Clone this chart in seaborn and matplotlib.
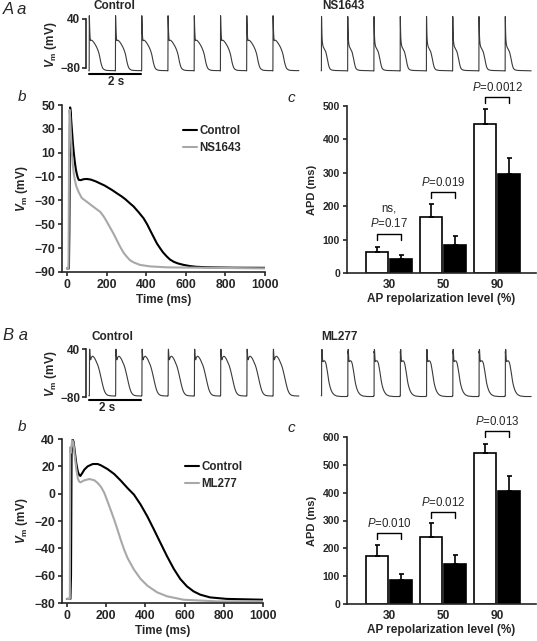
import numpy as np
import pandas as pd
import seaborn as sns
import matplotlib.pyplot as plt
from matplotlib.lines import Line2D

sns.set_style('ticks')
plt.rcParams['font.family'] = ['Liberation Sans', 'DejaVu Sans']
plt.rcParams['font.weight'] = 'bold'
plt.rcParams['axes.labelweight'] = 'bold'
plt.rcParams['mathtext.fontset'] = 'custom'
plt.rcParams['mathtext.rm'] = 'Liberation Sans:normal'
plt.rcParams['mathtext.it'] = 'Liberation Sans:italic:normal'
plt.rcParams['mathtext.bf'] = 'Liberation Sans:bold'
plt.rcParams['mathtext.bfit'] = 'Liberation Sans:italic:bold'
plt.rcParams['axes.linewidth'] = 1.2
plt.rcParams['xtick.major.width'] = 1.2
plt.rcParams['ytick.major.width'] = 1.2
plt.rcParams['xtick.major.size'] = 3
plt.rcParams['ytick.major.size'] = 3

a_ctrl_t = [0, 10, 12, 16, 19, 22, 26, 30, 35, 40, 45, 50, 55, 60, 70, 84, 100, 120, 145, 168,
            190, 210, 230, 252, 275, 295, 315, 336, 360, 387, 405, 420, 437, 454, 470, 485,
            504, 520, 540, 560, 588, 620, 650, 700, 756, 850, 1000]
a_ctrl_v = [-87, -87, -58, 48, 44, 36, 27, 18, 9, 2, -4, -8, -11, -12.8, -13, -12.2, -12, -12.5,
            -14, -15.8, -17.5, -19.5, -21.5, -24, -26.5, -29, -32, -35, -39.5, -45, -50, -55,
            -60.5, -66, -70, -73.5, -77, -79.5, -81.5, -82.8, -84, -85, -85.6, -86, -86.2,
            -86.4, -86.5]
a_drug_t = [0, 8, 11, 13, 16, 20, 25, 30, 35, 40, 47, 59, 75, 101, 134, 168, 185, 202, 218,
            235, 252, 269, 286, 303, 319, 336, 370, 420, 504, 1000]
a_drug_v = [-87, -87, 20, 46, 40, 25, 10, -1, -8, -13, -18, -23, -28, -31.2, -35.4, -39.6,
            -43.3, -48, -52.8, -57.8, -63.4, -69, -73.8, -77.4, -80.2, -81.9, -84.1, -85.3,
            -86.1, -87]

b_ctrl_t = [0, 18, 21, 24, 29, 34, 40, 48, 56, 63, 69, 78, 89, 106, 132, 157, 174, 207, 241,
            275, 309, 342, 376, 410, 444, 477, 511, 545, 578, 612, 646, 680, 730, 815, 1000]
b_ctrl_v = [-77, -77, -60, 30, 39.5, 38, 31, 22, 16, 13.5, 13, 15, 17.6, 20, 21.7, 21.7, 20.7,
            18, 14.4, 9.5, 4.1, -0.7, -8, -16.6, -26.3, -36, -45.9, -55, -62.4, -67.8, -71.5,
            -73.9, -75.9, -77, -77.6]
b_drug_t = [0, 15, 17, 20, 27, 33, 40, 48, 56, 63, 69, 89, 115, 140, 157, 174, 191, 207, 224,
            241, 258, 275, 292, 309, 342, 376, 410, 460, 511, 595, 764, 1000]
b_drug_v = [-77, -77, 34, 30, 39, 37, 28, 18, 11, 8.8, 8.3, 9.8, 10.7, 9.8, 7.8, 4.9, 0.5,
            -5.6, -12.2, -19, -26.3, -34, -41, -47, -55.6, -62.4, -67.3, -72.2, -75.1, -77.6,
            -78.8, -78.8]

# beat onsets (s) of the paced trains in panels a
ctrl_beats = [0, 1, 2, 3, 4, 5, 6, 7]
drug_beats = [8.85, 9.85, 10.85, 11.85, 12.85, 13.85, 14.85, 15.85]

# APD bars (ms), mean and SEM
levels = ['30', '50', '90']
a_ctrl_apd = [63, 168, 446]
a_ctrl_sem = [15, 39, 45]
a_drug_apd = [43, 85, 295]
a_drug_sem = [12, 26, 50]
a_p_text = ['ns,\n$\\mathit{P}$=0.17', '$\\mathit{P}$=0.019', '$\\mathit{P}$=0.0012']
a_bracket = [118, 243, 526]

b_ctrl_apd = [171, 242, 542]
b_ctrl_sem = [40, 50, 34]
b_drug_apd = [87, 145, 406]
b_drug_sem = [22, 32, 53]
b_p_text = ['$\\mathit{P}$=0.010', '$\\mathit{P}$=0.012', '$\\mathit{P}$=0.013']
b_bracket = [255, 329, 621]

W, H = 537, 641
fig = plt.figure(figsize=(W / 100, H / 100), dpi=100)
VM = '$\\mathbfit{V}_{\\mathbf{m}}$ (mV)'


def px_axes(left, top, right, bottom):
    return fig.add_axes([left / W, 1 - bottom / H, (right - left) / W, (bottom - top) / H])


def ftext(x, y, s, **kw):
    fig.text(x / W, 1 - y / H, s, **kw)


def bold_ticks(ax):
    for lab in ax.get_xticklabels() + ax.get_yticklabels():
        lab.set_fontweight('bold')


def train_frame(t_ms, v_mv, beats, tag):
    parts = [pd.DataFrame({'t': b + np.asarray(t_ms) / 1000, 'v': v_mv, 'beat': f'{tag}{k}'})
             for k, b in enumerate(beats)]
    return pd.concat(parts, ignore_index=True)


def draw_train(ax, ctrl, drug, bar_y):
    df = pd.concat([train_frame(ctrl[0], ctrl[1], ctrl_beats, 'c'),
                    train_frame(drug[0], drug[1], drug_beats, 'd')])
    sns.lineplot(data=df, x='t', y='v', units='beat', estimator=None, sort=False,
                 color='#3a3a3a', lw=0.8, ax=ax)
    ax.set_xlim(-0.11, 16.9)
    ax.set_ylim(-95, 50)
    sns.despine(ax=ax, bottom=True)
    ax.spines['left'].set_bounds(-80, 40)
    ax.set_xticks([])
    ax.set_yticks([-80, 40])
    ax.tick_params(axis='y', labelsize=8.5, pad=1)
    ax.set_xlabel('')
    ax.set_ylabel(VM, fontsize=8.5, labelpad=1)
    ax.plot([0, 2], [bar_y, bar_y], transform=ax.get_xaxis_transform(), color='black',
            lw=1.5, clip_on=False)
    bold_ticks(ax)


def draw_ap(ax, ctrl, drug, drug_name, yticks, leg_xy):
    df = pd.concat([pd.DataFrame({'t': ctrl[0], 'v': ctrl[1], 'cond': 'Control'}),
                    pd.DataFrame({'t': drug[0], 'v': drug[1], 'cond': drug_name})])
    sns.lineplot(data=df, x='t', y='v', hue='cond', estimator=None, sort=False,
                 palette={'Control': 'black', drug_name: '#a8a8a8'}, lw=1.5,
                 legend=False, ax=ax)
    ax.set_xlim(-25, 1000)
    ax.set_ylim(yticks[0], yticks[-1])
    ax.set_xticks([0, 200, 400, 600, 800, 1000])
    ax.set_yticks(yticks)
    ax.tick_params(labelsize=8.8, pad=2)
    ax.set_xlabel('Time (ms)', fontsize=8.5, labelpad=2)
    ax.set_ylabel(VM, fontsize=8.5, labelpad=3)
    sns.despine(ax=ax)
    bold_ticks(ax)
    handles = [Line2D([], [], color='black', lw=1.5), Line2D([], [], color='#a8a8a8', lw=1.5)]
    ax.legend(handles, ['Control', drug_name], loc='upper left', frameon=False,
              bbox_to_anchor=(leg_xy[0] / W, 1 - leg_xy[1] / H),
              bbox_transform=fig.transFigure, borderpad=0, borderaxespad=0,
              handlelength=1.25, handletextpad=0.2, labelspacing=0.42,
              prop={'weight': 'bold', 'size': 8.3})


def draw_apd(ax, ctrl, ctrl_sem, drug, drug_sem, drug_name, ptexts, brackets, ymax):
    df = pd.DataFrame({'level': levels * 2, 'apd': ctrl + drug,
                       'cond': ['Control'] * 3 + [drug_name] * 3})
    sns.barplot(data=df, x='level', y='apd', hue='cond', width=0.9, gap=0.1,
                palette={'Control': 'white', drug_name: 'black'}, edgecolor='black',
                linewidth=1.2, errorbar=None, legend=False, ax=ax)
    centers = []
    for cont, sem in zip(ax.containers, [ctrl_sem, drug_sem]):
        xs = [p.get_x() + p.get_width() / 2 for p in cont]
        ys = [p.get_height() for p in cont]
        centers.append(xs)
        ax.errorbar(xs, ys, yerr=[np.zeros(3), sem], fmt='none', ecolor='black',
                    elinewidth=1.2, capsize=1.8, capthick=1.2)
    leg = 0.036 * ymax
    for x0, x1, top, s in zip(centers[0], centers[1], brackets, ptexts):
        ax.plot([x0, x0, x1, x1], [top - leg, top, top, top - leg], color='black', lw=1,
                clip_on=False)
        ax.annotate(s, xy=((x0 + x1) / 2, top), xytext=(0, 4.5), textcoords='offset points',
                    ha='center', va='baseline', fontsize=8.3, fontweight='normal',
                    linespacing=1.3, annotation_clip=False)
    ax.set_xlim(-0.78, 2.72)
    ax.set_ylim(0, ymax)
    ax.set_yticks(np.arange(0, ymax + 1, 100))
    ax.tick_params(axis='x', length=0, labelsize=8.6, pad=4)
    ax.tick_params(axis='y', labelsize=7.5, pad=2)
    ax.set_xlabel('AP repolarization level (%)', fontsize=8.5, labelpad=2)
    ax.set_ylabel('APD (ms)', fontsize=8, labelpad=4)
    sns.despine(ax=ax)
    bold_ticks(ax)


# ---- A ----
ax = px_axes(86, 14.9, 532.5, 74.1)
draw_train(ax, (a_ctrl_t, a_ctrl_v), (a_drug_t, a_drug_v), 0.0)
ftext(116, 82, '2 s', ha='center', va='center', fontsize=8.5)
ftext(114, 6, 'Control', ha='center', va='center', fontsize=8.5)
ftext(343, 6, 'NS1643', ha='center', va='center', fontsize=8.5)

ax = px_axes(62, 105, 265, 272)
draw_ap(ax, (a_ctrl_t, a_ctrl_v), (a_drug_t, a_drug_v), 'NS1643',
        [-90, -70, -50, -30, -10, 10, 30, 50], (183, 125))

ax = px_axes(347, 106, 536, 273)
draw_apd(ax, a_ctrl_apd, a_ctrl_sem, a_drug_apd, a_drug_sem, 'NS1643', a_p_text,
         a_bracket, 500)

# ---- B ----
ax = px_axes(86, 345, 532.5, 403)
draw_train(ax, (b_ctrl_t, b_ctrl_v), (b_drug_t, b_drug_v), 0.05)
ftext(107, 408, '2 s', ha='center', va='center', fontsize=8.5)
ftext(112, 337, 'Control', ha='center', va='center', fontsize=8.5)
ftext(339, 337, 'ML277', ha='center', va='center', fontsize=8.5)

ax = px_axes(62, 439, 263, 603)
draw_ap(ax, (b_ctrl_t, b_ctrl_v), (b_drug_t, b_drug_v), 'ML277',
        [-80, -60, -40, -20, 0, 20, 40], (185, 461))

ax = px_axes(347, 437, 536, 604)
draw_apd(ax, b_ctrl_apd, b_ctrl_sem, b_drug_apd, b_drug_sem, 'ML277', b_p_text,
         b_bracket, 600)

# panel letters
for x, y, s, size in [(3, 9, 'A a', 12), (18, 97, 'b', 11), (287, 98, 'c', 11),
                      (3, 335, 'B a', 12), (18, 427, 'b', 11), (287, 428, 'c', 11)]:
    ftext(x, y, s, ha='left', va='center', fontsize=size, fontstyle='italic',
          fontweight='normal')

fig.savefig('out.png', dpi=100)
